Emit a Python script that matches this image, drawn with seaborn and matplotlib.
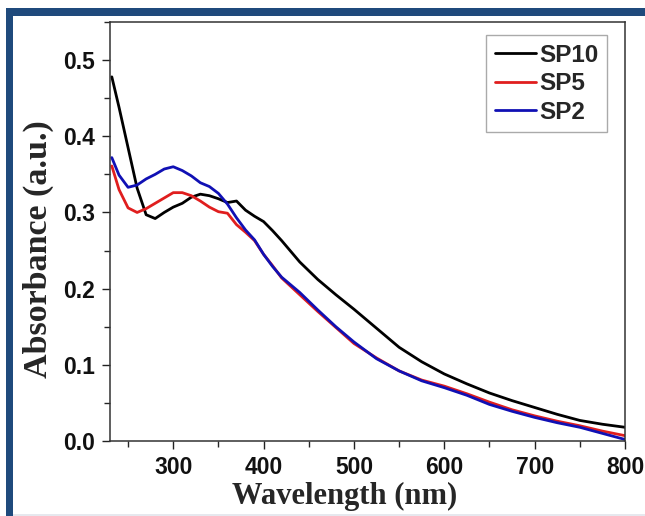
import matplotlib
matplotlib.use("Agg")
import matplotlib.pyplot as plt
import seaborn as sns
import pandas as pd
from matplotlib.patches import Rectangle
from matplotlib.ticker import MultipleLocator

# ---- data ----
wavelength = [232, 240, 250, 260, 270, 280, 290, 300, 310, 320, 330, 340, 350, 360,
              370, 380, 390, 400, 410, 420, 440, 460, 480, 500, 525, 550, 575, 600,
              625, 650, 675, 700, 725, 750, 775, 800]
sp10 = [0.478, 0.438, 0.385, 0.332, 0.297, 0.292, 0.300, 0.307, 0.312, 0.320, 0.324,
        0.322, 0.318, 0.313, 0.315, 0.303, 0.295, 0.288, 0.276, 0.263, 0.235, 0.212,
        0.192, 0.173, 0.148, 0.123, 0.104, 0.088, 0.075, 0.063, 0.053, 0.044, 0.035,
        0.027, 0.022, 0.018]
sp5 = [0.361, 0.330, 0.306, 0.300, 0.305, 0.312, 0.319, 0.326, 0.326, 0.322, 0.315,
       0.307, 0.301, 0.299, 0.284, 0.274, 0.263, 0.245, 0.230, 0.214, 0.192, 0.170,
       0.149, 0.128, 0.109, 0.092, 0.080, 0.072, 0.062, 0.051, 0.041, 0.033, 0.026,
       0.020, 0.013, 0.007]
sp2 = [0.372, 0.349, 0.333, 0.336, 0.344, 0.350, 0.357, 0.360, 0.355, 0.348, 0.339,
       0.334, 0.325, 0.311, 0.293, 0.277, 0.264, 0.245, 0.229, 0.215, 0.195, 0.172,
       0.150, 0.130, 0.108, 0.092, 0.079, 0.070, 0.060, 0.048, 0.039, 0.031, 0.024,
       0.018, 0.010, 0.002]
series_names = ["SP10", "SP5", "SP2"]
x_ticks = [300, 400, 500, 600, 700, 800]
y_ticks = [0.0, 0.1, 0.2, 0.3, 0.4, 0.5]

df = pd.concat([
    pd.DataFrame({"Wavelength": wavelength, "Absorbance": vals, "Sample": name})
    for name, vals in zip(series_names, [sp10, sp5, sp2])
], ignore_index=True)

sns.set_style("ticks")
plt.rcParams["font.family"] = ["Liberation Sans", "DejaVu Sans"]

W, H = 645, 516
fig = plt.figure(figsize=(W / 100, H / 100), dpi=100)
fig.patch.set_facecolor("white")

# blue frame (left and top bands)
blue = "#1f4a7c"
fig.patches.append(Rectangle((6 / W, 0), 1 - 6 / W, 1 - 8 / H, transform=fig.transFigure,
                             facecolor=blue, edgecolor="none", zorder=-10))
fig.patches.append(Rectangle((13 / W, 0), 1 - 13 / W, 1 - 16 / H, transform=fig.transFigure,
                             facecolor="white", edgecolor="none", zorder=-9))
fig.patches.append(Rectangle((13 / W, 0), 1 - 13 / W, 2.5 / H, transform=fig.transFigure,
                             facecolor="#e6e8ee", edgecolor="none", zorder=-8))

left, right, top, bottom = 110, 625, 22, 441
ax = fig.add_axes([left / W, 1 - bottom / H, (right - left) / W, (bottom - top) / H])

palette = {"SP10": "#000000", "SP5": "#e01e1e", "SP2": "#1010b4"}
sns.lineplot(data=df, x="Wavelength", y="Absorbance", hue="Sample", hue_order=series_names,
             palette=palette, linewidth=2.0, ax=ax, estimator=None, sort=False)

ax.set_xlim(230, 800)
ax.set_ylim(0, 0.55)
ax.set_xticks(x_ticks)
ax.set_yticks(y_ticks)
ax.xaxis.set_minor_locator(MultipleLocator(50))
ax.yaxis.set_minor_locator(MultipleLocator(0.05))
ax.set_yticklabels([f"{v:.1f}" for v in y_ticks])
ax.tick_params(axis="both", which="major", direction="out", length=6, width=1.0,
               labelsize=16.5, colors="#222222", top=False, right=False, pad=5)
ax.tick_params(axis="both", which="minor", direction="out", length=4, width=1.0,
               top=False, right=False)
for lab in ax.get_xticklabels() + ax.get_yticklabels():
    lab.set_fontweight("bold")
    lab.set_color("#111111")
for sp in ax.spines.values():
    sp.set_visible(True)
    sp.set_linewidth(1.1)
    sp.set_color("#333333")

ax.set_xlabel("Wavelength (nm)", fontsize=22, fontweight="bold",
              family=["Liberation Serif", "DejaVu Serif"])
ax.set_ylabel("Absorbance (a.u.)", fontsize=24.5, fontweight="bold",
              family=["Liberation Serif", "DejaVu Serif"])
ax.xaxis.set_label_coords(0.456, -0.098)
ax.yaxis.set_label_coords(-0.109, 0.458)

leg = ax.legend(loc="upper right", bbox_to_anchor=(0.966, 0.968), frameon=True, fancybox=False,
                edgecolor="#aaaaaa", framealpha=1, handlelength=1.7, handletextpad=0.15,
                borderpad=0.35, labelspacing=0.22, borderaxespad=0,
                prop={"weight": "bold", "size": 17.5, "family": "Liberation Sans"})
for line in leg.get_lines():
    line.set_linewidth(2.0)
leg.get_frame().set_linewidth(1.0)

fig.savefig("out.png", dpi=100)
